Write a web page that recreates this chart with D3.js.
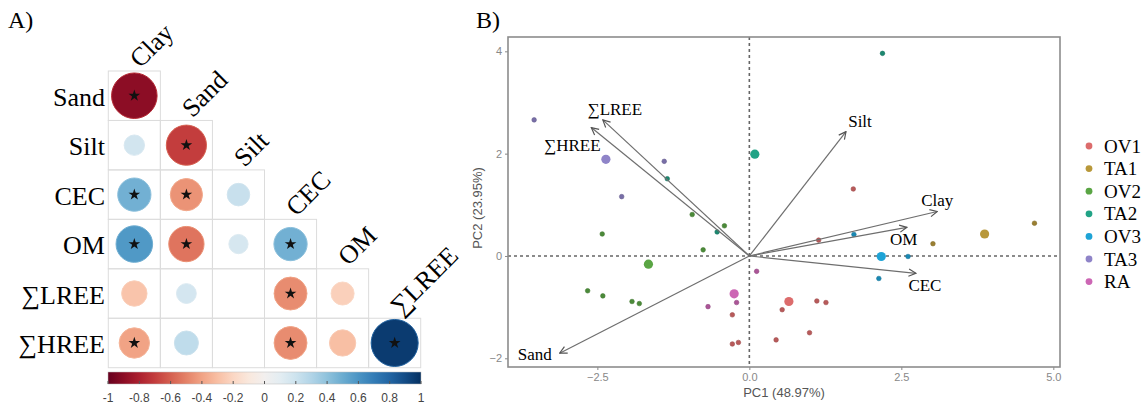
<!DOCTYPE html>
<html>
<head>
<meta charset="utf-8">
<script src="https://cdn.jsdelivr.net/npm/d3@7"></script>
<style>
  body { margin: 0; background: #fff; }
  svg { display: block; }
</style>
</head>
<body>
<svg id="chart" width="1148" height="408"></svg>
<script>
// ---- panel A data: correlation matrix (lower triangle, row i has i+1 cells)
var corrRows = ["Sand", "Silt", "CEC", "OM", "\u2211LREE", "\u2211HREE"];
var corrCols = ["Clay", "Sand", "Silt", "CEC", "OM", "\u2211LREE"];
var corrValues = [
  [-0.90],
  [0.18, -0.70],
  [0.48, -0.45, 0.22],
  [0.58, -0.54, 0.16, 0.48],
  [-0.28, 0.17, 0.00, -0.47, -0.23],
  [-0.40, 0.25, 0.00, -0.47, -0.30, 0.96]
];
var corrSignif = [
  [1],
  [0, 1],
  [1, 1, 0],
  [1, 1, 0, 1],
  [0, 0, 0, 1, 0],
  [1, 0, 0, 1, 0, 1]
];
var colorbarTicks = [-1, -0.8, -0.6, -0.4, -0.2, 0, 0.2, 0.4, 0.6, 0.8, 1];

// ---- panel B data: PCA scores, group means and loadings
var groups = ["OV1", "TA1", "OV2", "TA2", "OV3", "TA3", "RA"];
var groupColors = ["#dc6c6c", "#b8983a", "#5aa544", "#21a386", "#1ea3d6", "#8f84c8", "#cc66b4"];
var meanPC1 = [0.65, 3.87, -1.66, 0.09, 2.17, -2.36, -0.25];
var meanPC2 = [-0.89, 0.43, -0.16, 1.99, -0.01, 1.89, -0.74];
var scoresOV1 = [[-0.28, -1.15], [-0.28, -1.72], [-0.18, -1.69], [0.44, -1.64], [0.54, -1.05],
                 [0.99, -1.50], [1.11, -0.88], [1.26, -0.91], [1.71, 1.31], [1.14, 0.31]];
var scoresTA1 = [[3.02, 0.24], [4.69, 0.64]];
var scoresOV2 = [[-2.42, 0.43], [-0.94, 0.81], [-0.41, 0.59], [-0.76, 0.12],
                 [-2.66, -0.68], [-2.41, -0.78], [-1.93, -0.89], [-1.81, -0.93]];
var scoresTA2 = [[-1.35, 1.51], [-0.53, 0.47], [2.19, 3.96]];
var scoresOV3 = [[2.61, -0.01], [2.13, -0.44], [1.72, 0.42]];
var scoresTA3 = [[-3.54, 2.66], [-1.40, 1.85], [-2.10, 1.16]];
var scoresRA = [[0.12, -0.30], [-0.21, -0.91], [-0.68, -0.99]];
var loadingVars = ["Silt", "Clay", "OM", "CEC", "Sand", "\u2211LREE", "\u2211HREE"];
var loadingPC1 = [1.59, 3.09, 2.59, 2.74, -3.12, -2.41, -2.60];
var loadingPC2 = [2.43, 0.87, 0.56, -0.34, -1.90, 2.66, 2.51];
var xTicks = [-2.5, 0, 2.5, 5];
var yTicks = [-2, 0, 2, 4];

// label nudges (px) for loading labels, relative to arrow tips
var labelNudge = {
  "Silt": [14, -5], "Clay": [0, -5], "OM": [-3, 18], "CEC": [9, 18],
  "Sand": [-25, 7], "\u2211LREE": [12, -5], "\u2211HREE": [-19, 23]
};

var svg = d3.select("#chart");
var serif = "'Liberation Serif', 'DejaVu Serif', serif";
var sans = "'Liberation Sans', Arial, sans-serif";

// ================= Panel A =================
var corrColor = d3.scaleSequential(d3.interpolateRdBu).domain([-1, 1]);
var cx = d3.scaleBand().domain(corrCols).range([108.3, 420.7]);
var cy = d3.scaleBand().domain(corrRows).range([71, 367.7]);
var maxR = 24;

svg.append("text")
  .attr("x", 8).attr("y", 28)
  .style("font-family", serif).style("font-size", "24px")
  .text("A)");

var cells = [];
corrRows.forEach(function (r, i) {
  corrValues[i].forEach(function (v, j) {
    cells.push({ row: r, col: corrCols[j], value: v, sig: corrSignif[i][j] });
  });
});

var gA = svg.append("g");

gA.selectAll(".cell")
  .data(cells)
  .enter()
  .append("rect")
  .attr("x", d => cx(d.col))
  .attr("y", d => cy(d.row))
  .attr("width", cx.bandwidth())
  .attr("height", cy.bandwidth())
  .attr("fill", "none")
  .attr("stroke", "#dcdcdc")
  .attr("stroke-width", 1);

gA.selectAll(".corr")
  .data(cells)
  .enter()
  .append("circle")
  .attr("cx", d => cx(d.col) + cx.bandwidth() / 2)
  .attr("cy", d => cy(d.row) + cy.bandwidth() / 2)
  .attr("r", d => maxR * Math.sqrt(Math.abs(d.value)))
  .attr("fill", d => corrColor(d.value))
  .attr("stroke", d => corrColor(d.value * 0.85))
  .attr("stroke-width", 1);

gA.selectAll(".star")
  .data(cells.filter(d => d.sig))
  .enter()
  .append("path")
  .attr("d", d3.symbol().type(d3.symbolStar).size(42))
  .attr("transform", d => "translate(" + (cx(d.col) + cx.bandwidth() / 2) + "," + (cy(d.row) + cy.bandwidth() / 2) + ")")
  .attr("fill", "#111");

gA.selectAll(".rowlab")
  .data(corrRows)
  .enter()
  .append("text")
  .attr("x", 105)
  .attr("y", d => cy(d) + cy.bandwidth() / 2 + 10)
  .attr("text-anchor", "end")
  .style("font-family", serif)
  .style("font-size", "26px")
  .text(d => d);

gA.selectAll(".collab")
  .data(corrCols)
  .enter()
  .append("text")
  .attr("transform", (d, j) => "translate(" + (cx(d) + cx.bandwidth() / 2 + 6) + "," + (cy(corrRows[j]) - 2) + ") rotate(-45)")
  .style("font-family", serif)
  .style("font-size", "26px")
  .text(d => d);

// colorbar
var cbScale = d3.scaleLinear().domain([-1, 1]).range([108, 421]);
var grad = svg.append("defs").append("linearGradient").attr("id", "rdbu");
d3.range(0, 1.0001, 0.05).forEach(function (t) {
  grad.append("stop").attr("offset", t).attr("stop-color", d3.interpolateRdBu(t));
});
gA.append("rect")
  .attr("x", cbScale(-1)).attr("y", 372)
  .attr("width", cbScale(1) - cbScale(-1)).attr("height", 12)
  .attr("fill", "url(#rdbu)")
  .attr("stroke", "#bbb").attr("stroke-width", 0.5);
gA.selectAll(".cbtick")
  .data(colorbarTicks)
  .enter()
  .append("line")
  .attr("x1", d => cbScale(d)).attr("x2", d => cbScale(d))
  .attr("y1", 381).attr("y2", 384)
  .attr("stroke", "#555").attr("stroke-width", 1);
gA.selectAll(".cblab")
  .data(colorbarTicks)
  .enter()
  .append("text")
  .attr("x", d => cbScale(d))
  .attr("y", 402)
  .attr("text-anchor", "middle")
  .style("font-family", sans)
  .style("font-size", "12px")
  .style("fill", "#444")
  .text(d => d);

// ================= Panel B =================
svg.append("text")
  .attr("x", 476).attr("y", 28)
  .style("font-family", serif).style("font-size", "24px")
  .text("B)");

var x = d3.scaleLinear().domain([-3.97, 5.11]).range([508, 1060]);
var y = d3.scaleLinear().domain([-2.17, 4.28]).range([367, 37]);
var gB = svg.append("g");

gB.append("g")
  .attr("transform", "translate(0,367)")
  .call(d3.axisBottom(x).tickValues(xTicks).tickSize(3).tickFormat(d3.format(".1f")))
  .call(g => g.select(".domain").remove())
  .call(g => g.selectAll("line").attr("stroke", "#888"))
  .call(g => g.selectAll("text").attr("fill", "#888").style("font-family", sans).style("font-size", "11px"));

gB.append("g")
  .attr("transform", "translate(508,0)")
  .call(d3.axisLeft(y).tickValues(yTicks).tickSize(3).tickFormat(d3.format("d")))
  .call(g => g.select(".domain").remove())
  .call(g => g.selectAll("line").attr("stroke", "#888"))
  .call(g => g.selectAll("text").attr("fill", "#888").style("font-family", sans).style("font-size", "11px"));

gB.append("text")
  .attr("x", 784).attr("y", 397)
  .attr("text-anchor", "middle")
  .style("font-family", sans).style("font-size", "13px").style("fill", "#555")
  .text("PC1 (48.97%)");
gB.append("text")
  .attr("transform", "translate(482,208) rotate(-90)")
  .attr("text-anchor", "middle")
  .style("font-family", sans).style("font-size", "13px").style("fill", "#555")
  .text("PC2 (23.95%)");

// zero lines
gB.append("line")
  .attr("x1", x(0)).attr("x2", x(0)).attr("y1", 37).attr("y2", 367)
  .attr("stroke", "#666").attr("stroke-width", 1.6).attr("stroke-dasharray", "3,3");
gB.append("line")
  .attr("x1", 508).attr("x2", 1060).attr("y1", y(0)).attr("y2", y(0))
  .attr("stroke", "#666").attr("stroke-width", 1.6).attr("stroke-dasharray", "3,3");

// scores
var allScores = [scoresOV1, scoresTA1, scoresOV2, scoresTA2, scoresOV3, scoresTA3, scoresRA];
var points = [];
allScores.forEach(function (arr, gi) {
  arr.forEach(function (p) {
    points.push({ group: groups[gi], pc1: p[0], pc2: p[1] });
  });
});
var colorOf = d3.scaleOrdinal().domain(groups).range(groupColors);

gB.selectAll(".pt")
  .data(points)
  .enter()
  .append("circle")
  .attr("cx", d => x(d.pc1))
  .attr("cy", d => y(d.pc2))
  .attr("r", 2.3)
  .attr("fill", d => d3.color(colorOf(d.group)).darker(0.5))
  .attr("stroke", d => d3.color(colorOf(d.group)).darker(0.9))
  .attr("stroke-width", 0.6);

gB.selectAll(".mean")
  .data(groups)
  .enter()
  .append("circle")
  .attr("cx", (d, i) => x(meanPC1[i]))
  .attr("cy", (d, i) => y(meanPC2[i]))
  .attr("r", 4.6)
  .attr("fill", d => colorOf(d));

// loadings
svg.select("defs").append("marker")
  .attr("id", "arrow")
  .attr("viewBox", "0 0 10 10")
  .attr("refX", 9).attr("refY", 5)
  .attr("markerWidth", 9).attr("markerHeight", 9)
  .attr("markerUnits", "userSpaceOnUse")
  .attr("orient", "auto")
  .append("path")
  .attr("d", "M1,1 L9,5 L1,9")
  .attr("fill", "none")
  .attr("stroke", "#555")
  .attr("stroke-width", 1.3);

gB.selectAll(".load")
  .data(loadingVars)
  .enter()
  .append("line")
  .attr("x1", x(0)).attr("y1", y(0))
  .attr("x2", (d, i) => x(loadingPC1[i]))
  .attr("y2", (d, i) => y(loadingPC2[i]))
  .attr("stroke", "#6e6e6e")
  .attr("stroke-width", 1.2)
  .attr("marker-end", "url(#arrow)");

gB.selectAll(".loadlab")
  .data(loadingVars)
  .enter()
  .append("text")
  .attr("x", (d, i) => x(loadingPC1[i]) + labelNudge[d][0])
  .attr("y", (d, i) => y(loadingPC2[i]) + labelNudge[d][1])
  .attr("text-anchor", "middle")
  .style("font-family", serif)
  .style("font-size", "17px")
  .text(d => d);

// panel border
gB.append("rect")
  .attr("x", 508).attr("y", 37)
  .attr("width", 552).attr("height", 330)
  .attr("fill", "none")
  .attr("stroke", "#8c8c8c")
  .attr("stroke-width", 1.6);

// legend
var legend = svg.append("g").attr("transform", "translate(1089,146)");
legend.selectAll("circle")
  .data(groups)
  .enter()
  .append("circle")
  .attr("cx", 0)
  .attr("cy", (d, i) => i * 22.6)
  .attr("r", 3.4)
  .attr("fill", d => colorOf(d));
legend.selectAll("text")
  .data(groups)
  .enter()
  .append("text")
  .attr("x", 15)
  .attr("y", (d, i) => i * 22.6 + 6.5)
  .style("font-family", serif)
  .style("font-size", "19px")
  .text(d => d);
</script>
</body>
</html>
